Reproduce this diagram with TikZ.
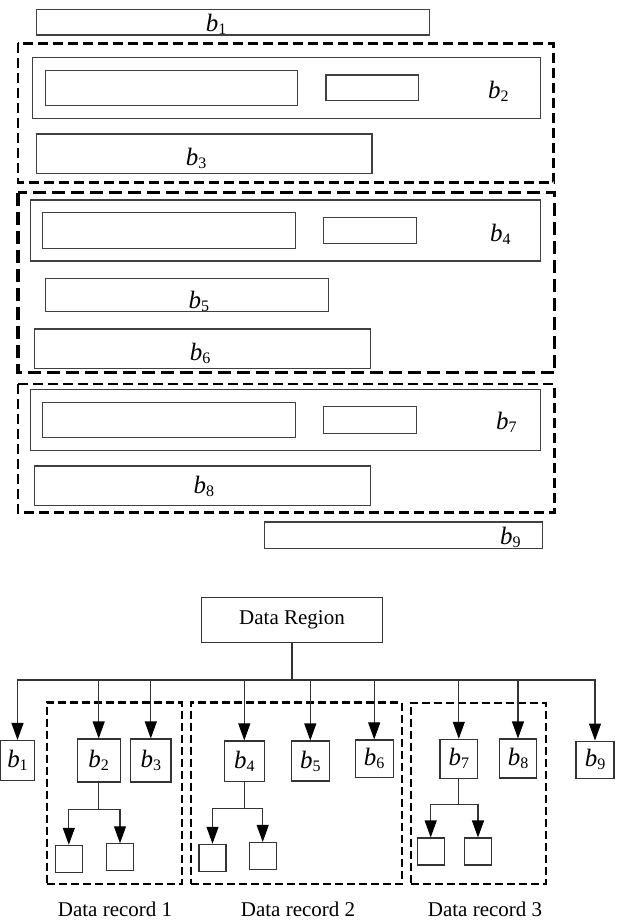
\documentclass[tikz,border=0pt]{standalone}
\usepackage{fontspec}
\setmainfont{Liberation Serif}
\usetikzlibrary{arrows.meta}
\newcommand{\bsub}[1]{{\fontsize{25}{28}\selectfont\textit{b}\raisebox{-3pt}{\fontsize{16}{16}\selectfont #1}}}
\begin{document}
\begin{tikzpicture}[x=1pt,y=-1pt,
  thinbox/.style={draw=black!75,line width=1.1pt},
  dbox/.style={draw=black,line width=2.5pt,dash pattern=on 10pt off 5pt},
  dboxthick/.style={draw=black,line width=3.2pt,dash pattern=on 13pt off 6pt},
  lab/.style={anchor=base west,inner sep=0pt},
  bnode/.style={draw=black!80,line width=1.1pt,inner sep=0pt,minimum width=40pt,minimum height=41pt},
  cnode/.style={draw=black!80,line width=1.1pt,inner sep=0pt,minimum size=27pt},
  rec/.style={draw=black,line width=2.3pt,dash pattern=on 8pt off 4pt,inner sep=0pt},
  arr/.style={draw=black!80,line width=1.1pt,-{Triangle[length=17pt,width=12pt,color=black,fill=black]}},
  conn/.style={draw=black!80,line width=1.1pt},
  txt/.style={font=\fontsize{21}{24}\selectfont,inner sep=0pt}
]
\fill[white] (0,0) rectangle (618,922);
\useasboundingbox (0,0) rectangle (618,922);

% ---------- top layout ----------
\draw[thinbox] (36.5,9.3) rectangle (429.8,35);
\node[lab] (t1) at (205.6,31.7) {\bsub{1}};

\draw[dbox] (17.9,43.3) rectangle (553.6,182.7);
\draw[thinbox] (32.5,57.3) rectangle (540.5,118.3);
\draw[thinbox] (45.6,70.7) rectangle (297.6,105.7);
\draw[thinbox] (326,75) rectangle (418.7,100.7);
\node[lab] (t2) at (488,98.3) {\bsub{2}};
\draw[thinbox] (36.5,134) rectangle (372,173.3);
\node[lab] (t3) at (185.7,165) {\bsub{3}};

\draw[dboxthick] (17.9,192.7) rectangle (554.8,372.7);
\draw[thinbox] (30.2,200) rectangle (540.5,261);
\draw[thinbox] (42.9,212.7) rectangle (295.6,248.3);
\draw[thinbox] (323.4,217.3) rectangle (416.7,243.3);
\node[lab] (t4) at (490,241.7) {\bsub{4}};
\draw[thinbox] (45.6,278.3) rectangle (328.6,311.7);
\node[lab] (t5) at (188.5,308.3) {\bsub{5}};
\draw[thinbox] (34.5,329) rectangle (370.2,368.3);
\node[lab] (t6) at (189.7,360) {\bsub{6}};

\draw[dbox] (17.9,384) rectangle (554.4,512.7);
\draw[thinbox] (30.2,389.3) rectangle (540.5,450.7);
\draw[thinbox] (42.9,402.3) rectangle (295.6,437.7);
\draw[thinbox] (323.4,406.7) rectangle (416.7,433.3);
\node[lab] (t7) at (496,429.3) {\bsub{7}};
\draw[thinbox] (34.5,466) rectangle (370.2,505.7);
\node[lab] (t8) at (193.3,493.3) {\bsub{8}};
\draw[thinbox] (264.3,522) rectangle (542.9,548.3);
\node[lab] (t9) at (500,544) {\bsub{9}};

% ---------- tree ----------
\node[draw=black!80,line width=1.1pt,minimum width=181.7pt,minimum height=45pt,txt] (DR) at (292,619.8) {Data Region};
\coordinate (bus) at (292,680);

\node[rec,minimum width=135pt,minimum height=181.7pt] (rec1) at (114.2,793.2) {};
\node[rec,minimum width=211pt,minimum height=181.7pt] (rec2) at (296.2,793.2) {};
\node[rec,minimum width=135pt,minimum height=181.3pt] (rec3) at (478.5,793.3) {};

\node[bnode,minimum width=34pt,minimum height=40pt] (b1) at (17.5,760.5) {\bsub{1}};
\node[bnode,minimum width=42.7pt,minimum height=43pt] (b2) at (98.7,760.5) {\bsub{2}};
\node[bnode,minimum width=40.3pt,minimum height=43pt] (b3) at (150.8,760.5) {\bsub{3}};
\node[bnode,minimum width=40pt,minimum height=40.7pt] (b4) at (244.3,761.3) {\bsub{4}};
\node[bnode,minimum width=38pt,minimum height=40pt] (b5) at (310.3,761) {\bsub{5}};
\node[bnode,minimum width=38.3pt,minimum height=37.7pt] (b6) at (374.2,758.8) {\bsub{6}};
\node[bnode,minimum width=37.7pt,minimum height=39pt] (b7) at (458.8,758.8) {\bsub{7}};
\node[bnode,minimum width=37.4pt,minimum height=39pt] (b8) at (518,758.5) {\bsub{8}};
\node[bnode,minimum width=38pt,minimum height=37.3pt] (b9) at (595,759.7) {\bsub{9}};

\draw[conn] (DR.south) -- (bus);
\foreach \n in {1,...,9} \draw[arr] (bus) -| (b\n.north);

\node[cnode] (c2a) at (68.8,858.8) {};
\node[cnode] (c2b) at (120,857.3) {};
\node[cnode] (c4a) at (212.5,857.8) {};
\node[cnode] (c4b) at (262.7,856) {};
\node[cnode] (c7a) at (430.7,851.5) {};
\node[cnode] (c7b) at (478,851.5) {};

\coordinate (y2) at (0,809.3);
\coordinate (y4) at (0,808.3);
\coordinate (y7) at (0,804.3);
\coordinate (j2) at (b2.south |- y2);
\coordinate (j4) at (b4.south |- y4);
\coordinate (j7) at (b7.south |- y7);
\draw[conn] (b2.south) -- (j2);
\draw[conn] (b4.south) -- (j4);
\draw[conn] (b7.south) -- (j7);
\draw[arr] (j2) -| (c2a.north);
\draw[arr] (j2) -| (c2b.north);
\draw[arr] (j4) -| (c4a.north);
\draw[arr] (j4) -| (c4b.north);
\draw[arr] (j7) -| (c7a.north);
\draw[arr] (j7) -| (c7b.north);

\node[txt] (l1) at (115,909) {Data record 1};
\node[txt] (l2) at (298,909) {Data record 2};
\node[txt] (l3) at (485,909) {Data record 3};
\end{tikzpicture}
\end{document}
